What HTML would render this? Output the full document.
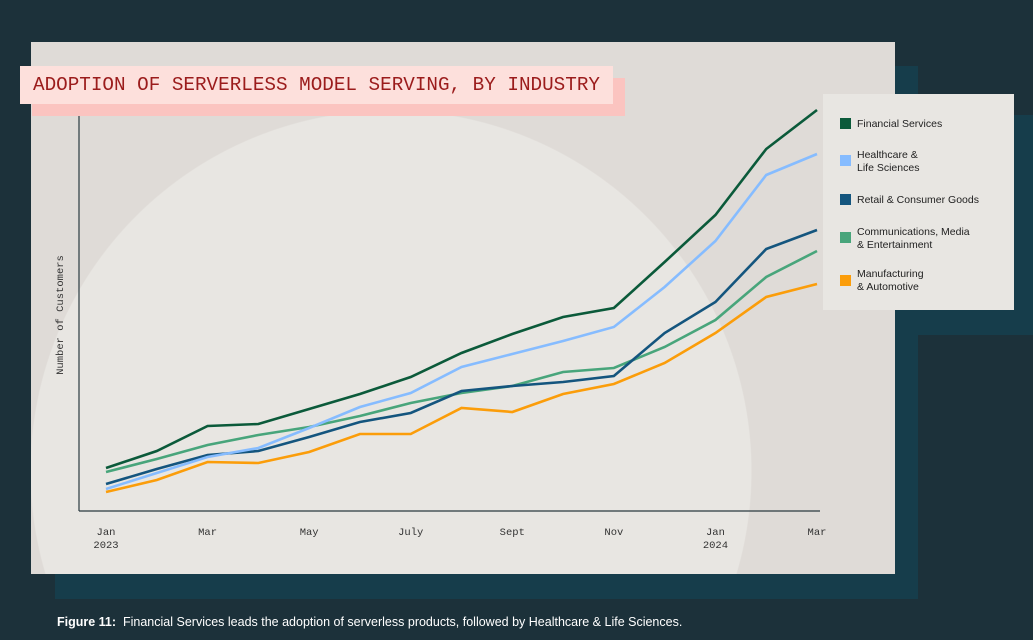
<!DOCTYPE html>
<html style="overflow:hidden"><head><meta charset="utf-8"><style>
html,body{margin:0;padding:0}
body{width:1033px;height:640px;background:#1c313a;overflow:hidden;position:relative;font-family:"Liberation Sans",sans-serif}
.abs{position:absolute}
.leg{position:absolute;left:857px;font-size:10.5px;color:#222;line-height:13px}
.sw{position:absolute;left:840px;width:11px;height:11px}
</style></head><body>
<div class="abs" style="left:55px;top:66px;width:863px;height:533px;background:#163d4b"></div>
<div class="abs" style="left:895px;top:115px;width:138px;height:220px;background:#163d4b"></div>
<div class="abs" style="left:31px;top:42px;width:864px;height:532px;background:radial-gradient(circle at 360px 429px, #e8e6e2 360px, #dfdbd7 361px)"></div>
<div class="abs" style="left:32px;top:78px;width:593px;height:38px;background:#fbc4c0"></div>
<div class="abs" style="left:20px;top:66px;width:593px;height:38px;background:#fde0dc;color:#9b1c1c;font-family:'Liberation Mono',monospace;font-size:19.3px;line-height:38px;padding-left:13px;box-sizing:border-box;white-space:nowrap;overflow:hidden">ADOPTION OF SERVERLESS MODEL SERVING, BY INDUSTRY</div>
<svg class="abs" style="left:0;top:0;display:block" width="1033" height="640" id="chart">
  <line x1="79" y1="116" x2="79" y2="511" stroke="#2a3a40" stroke-width="1.2"/>
  <line x1="79" y1="511" x2="820" y2="511" stroke="#2a3a40" stroke-width="1.2"/>
  <text x="63" y="315" transform="rotate(-90 63 315)" text-anchor="middle" font-family="Liberation Mono,monospace" font-size="10.5" fill="#333">Number of Customers</text>
  <g id="lines"></g><g id="xt"></g>
</svg>
<div class="abs" style="left:823px;top:94px;width:191px;height:216px;background:#e8e6e2"></div>
<div class="sw" style="top:118px;background:#0b5a3a"></div>
<div class="leg" style="top:118px">Financial Services</div>
<div class="sw" style="top:155px;background:#86bcff"></div>
<div class="leg" style="top:149px">Healthcare &amp;<br>Life Sciences</div>
<div class="sw" style="top:194px;background:#14557e"></div>
<div class="leg" style="top:194px">Retail &amp; Consumer Goods</div>
<div class="sw" style="top:232px;background:#48a57b"></div>
<div class="leg" style="top:226px">Communications, Media<br>&amp; Entertainment</div>
<div class="sw" style="top:275px;background:#fb9d0a"></div>
<div class="leg" style="top:268px">Manufacturing<br>&amp; Automotive</div>
<div class="abs" style="left:57px;top:614px;height:16px;color:#fff;font-size:12.5px;line-height:16px;white-space:nowrap"><b>Figure 11:</b>&nbsp; Financial Services leads the adoption of serverless products, followed by Healthcare &amp; Life Sciences.</div>
<script>
const months = ["Jan","Feb","Mar","Apr","May","Jun","Jul","Aug","Sep","Oct","Nov","Dec","Jan","Feb","Mar"];
const tickLabels = ["Jan|2023","","Mar","","May","","July","","Sept","","Nov","","Jan|2024","","Mar"];
const financial = [43,60,85,87,102,117,134,158,177,194,203,249,296,362,401];
const healthcare = [22,38,54,63,83,104,118,144,157,170,184,224,270,336,357];
const retail = [27,42,56,60,74,89,98,120,125,129,135,178,209,262,281];
const comms = [39,52,66,76,84,95,108,118,125,139,143,164,191,234,260];
const manufacturing = [19,31,49,48,59,77,77,103,99,117,127,148,178,214,227];
const x = i => 106 + i * (817 - 106) / (months.length - 1);
const y = v => 511 - v * 400 / 400;
const NS = "http://www.w3.org/2000/svg";
const g = document.getElementById('lines');
const series = [["comms",comms,"#48a57b"],["manufacturing",manufacturing,"#fb9d0a"],["retail",retail,"#14557e"],["healthcare",healthcare,"#86bcff"],["financial",financial,"#0b5a3a"]];
series.forEach(([n,d,c]) => {
  const p = document.createElementNS(NS,'path');
  p.setAttribute('d', d.map((v,i)=>(i?'L':'M')+x(i)+' '+y(v)).join(' '));
  p.setAttribute('fill','none'); p.setAttribute('stroke',c); p.setAttribute('stroke-width','2.6');
  
  
  g.appendChild(p);
});
const xt = document.getElementById('xt');
tickLabels.forEach((l,i) => {
  if (!l) return;
  l.split('|').forEach((s,j) => {
    const t = document.createElementNS(NS,'text');
    t.setAttribute('x', x(i)); t.setAttribute('y', 535 + j*13);
    t.setAttribute('text-anchor','middle'); t.setAttribute('font-family','Liberation Mono,monospace');
    t.setAttribute('font-size','10.5'); t.setAttribute('fill','#333');
    t.textContent = s;
    
    
    xt.appendChild(t);
  });
});
</script>
</body></html>
